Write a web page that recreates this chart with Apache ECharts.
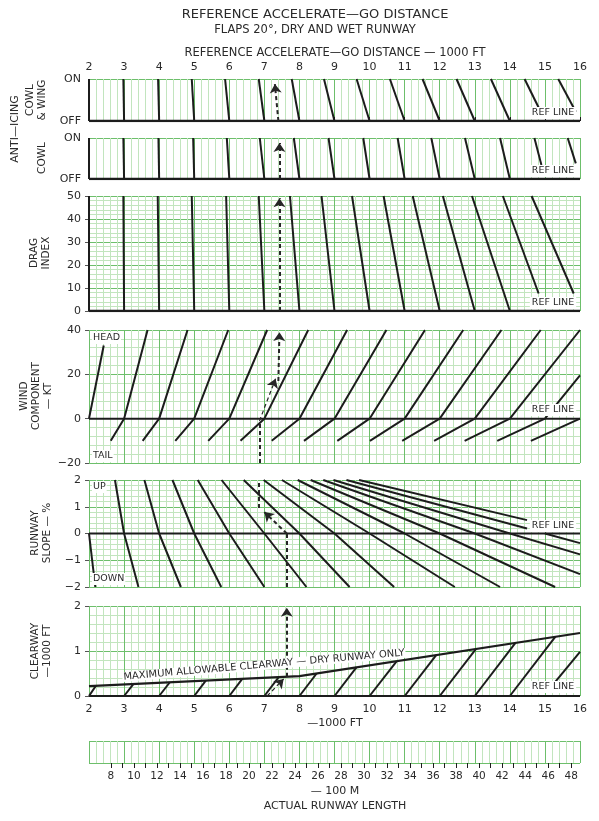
<!DOCTYPE html>
<html><head><meta charset="utf-8">
<script src="https://cdn.jsdelivr.net/npm/echarts@6/dist/echarts.min.js"></script>
<style>html,body{margin:0;padding:0;background:#fff}#c{width:599px;height:821px}</style>
</head><body><div id="c"></div>
<script>
// ---------- DATA ----------
const ftRange = [2, 16];                 // reference accelerate-go distance, 1000 ft
const ftPerMetric = 3.048;               // 1000 ft -> 100 m
const metricLabels = [8,10,12,14,16,18,20,22,24,26,28,30,32,34,36,38,40,42,44,46,48];
const metricTicks = [8,9,10,11,12,13,14,15,16,17,18,19,20,21,22,23,24,25,26,27,28,29,30,31,32,33,34,35,36,37,38,39,40,41,42,43,44,45,46,47,48];

const cowlWingLines = [
  [[2,0],[2,1]], [[3,0],[2.98,1]], [[4,0],[3.97,1]], [[5,0],[4.93,1]], [[6,0],[5.88,1]],
  [[7,0],[6.84,1]], [[8,0],[7.78,1]], [[9,0],[8.70,1]], [[10,0],[9.63,1]], [[11,0],[10.58,1]],
  [[12,0],[11.51,1]], [[13,0],[12.48,1]], [[14,0],[13.46,1]], [[14.82,0.32],[14.42,1]], [[15.88,0.22],[15.38,1]]
];
const cowlLines = [
  [[2,0],[2,1]], [[3,0],[2.98,1]], [[4,0],[3.98,1]], [[5,0],[4.97,1]], [[6,0],[5.93,1]],
  [[7,0],[6.87,1]], [[8,0],[7.84,1]], [[9,0],[8.83,1]], [[10,0],[9.82,1]], [[11,0],[10.80,1]],
  [[12,0],[11.76,1]], [[13,0],[12.72,1]], [[14,0],[13.72,1]], [[14.90,0.34],[14.70,1]], [[15.88,0.38],[15.65,1]]
];
const dragLines = [
  [[2,0],[2,50]], [[3,0],[2.98,50]], [[4,0],[3.96,50]], [[5,0],[4.93,50]], [[6,0],[5.91,50]],
  [[7,0],[6.84,50]], [[8,0],[7.73,50]], [[9,0],[8.63,50]], [[10,0],[9.50,50]], [[11,0],[10.40,50]],
  [[12,0],[11.23,50]], [[13,0],[12.09,50]], [[14,0],[12.92,50]], [[14.82,7.6],[13.80,50]], [[15.82,7.6],[14.62,50]]
];
const windLines = [
  [[2,0],[2.42,33]],
  [[2.62,-10],[3,0],[3.67,40]],
  [[3.53,-10],[4,0],[4.81,40]],
  [[4.46,-10],[5,0],[5.97,40]],
  [[5.40,-10],[6,0],[7.08,40]],
  [[6.32,-10],[7,0],[8.25,40]],
  [[7.21,-10],[8,0],[9.36,40]],
  [[8.13,-10],[9,0],[10.48,40]],
  [[9.08,-10],[10,0],[11.58,40]],
  [[10.01,-10],[11,0],[12.67,40]],
  [[10.93,-10],[12,0],[13.76,40]],
  [[11.84,-10],[13,0],[14.88,40]],
  [[12.71,-10],[14,0],[16,40]],
  [[13.64,-10],[15,0],[16,19.5]],
  [[14.60,-10],[16,0]]
];
const slopeLines = [
  [[2,0],[2.18,-2]],
  [[2.74,2],[3,0],[3.41,-2]],
  [[3.58,2],[4,0],[4.62,-2]],
  [[4.38,2],[5,0],[5.77,-2]],
  [[5.10,2],[6,0],[7.00,-2]],
  [[5.78,2],[7,0],[8.20,-2]],
  [[6.41,2],[8,0],[9.43,-2]],
  [[6.98,2],[9,0],[10.70,-2]],
  [[7.50,2],[10,0],[12.43,-2]],
  [[7.95,2],[11,0],[13.72,-2]],
  [[8.32,2],[12,0],[15.29,-2]],
  [[8.68,2],[13,0],[16,-1.52]],
  [[8.97,2],[14,0],[16,-0.78]],
  [[9.34,2],[14.49,0.19]], [[15,0],[16,-0.36]],
  [[9.70,2],[14.49,0.50]]
];
const maxClearway = [[2,0.22],[8,0.44],[16,1.40]];
const clearwayLines = [
  [[2,0],[2.20,0.23]], [[3,0],[3.27,0.27]], [[4,0],[4.30,0.30]], [[5,0],[5.33,0.34]],
  [[6,0],[6.37,0.38]], [[7,0],[7.41,0.42]], [[8,0],[8.49,0.50]], [[9,0],[9.63,0.64]],
  [[10,0],[10.77,0.77]], [[11,0],[11.90,0.91]], [[12,0],[13.03,1.04]], [[13,0],[14.16,1.18]],
  [[14,0],[15.30,1.32]], [[15.30,0.32],[16,0.98]]
];
// example path (dashed)
const pathCowlWing = [[7.40,0],[7.30,0.88]];
const pathCowl = [[7.43,0],[7.43,0.88]];
const pathDrag = [[7.43,0],[7.43,49]];
const pathWindLow = [[6.86,-20],[6.86,-1]];
const pathWindGuide = [[6.86,-1],[7.32,18]];
const pathWindHigh = [[7.40,17],[7.43,39]];
const pathSlopeLow = [[7.64,-2],[7.64,0]];
const pathSlopeGuide = [[7.64,0],[7.00,0.80]];
const pathSlopeHigh = [[6.84,0.95],[6.84,2]];
const pathClearGuide = [[7.08,0],[7.55,0.38]];
const pathClearHigh = [[7.64,0.43],[7.64,1.96]];

// ---------- STYLE / LAYOUT ----------
const FONT = '"DejaVu Sans", "Liberation Sans", sans-serif';
const MAJ = '#6dbf6b', MIN = '#c2e5be', INK = '#1c1c1c', TXT = '#2a2a2a';
const L = 89, R = 19;
const grids = [
  {top: 79, height: 42}, {top: 138, height: 41}, {top: 196, height: 115},
  {top: 330, height: 133}, {top: 480, height: 107}, {top: 606, height: 90}, {top: 741, height: 22}
].map(g => Object.assign({left: L, right: R}, g));

const yCfg = [
  {min:0, max:1, interval:1, minor:false, fmt: v => v ? 'ON' : 'OFF', tick:false},
  {min:0, max:1, interval:1, minor:false, fmt: v => v ? 'ON' : 'OFF', tick:false},
  {min:0, max:50, interval:10, minor:true, tick:true},
  {min:-20, max:40, interval:20, minor:true, tick:true},
  {min:-2, max:2, interval:1, minor:true, tick:true},
  {min:0, max:2, interval:1, minor:true, tick:true},
  {min:0, max:1, interval:1, minor:false, noLabel:true, tick:false}
];
const minusFmt = v => (v < 0 ? '\u2212' + (-v) : String(v));

const xAxes = grids.map((g, i) => ({
  type: 'value', gridIndex: i, min: ftRange[0], max: ftRange[1], interval: 1,
  position: i === 0 ? 'top' : 'bottom',
  axisLine: {show: false},
  axisTick: {show: i === 0, length: 4, lineStyle: {color: INK, width: 1}},
  axisLabel: {show: i === 0 || i === 5, margin: i === 0 ? 6 : 8, color: TXT, fontSize: 11, fontFamily: FONT},
  splitLine: {show: true, lineStyle: {color: MAJ, width: 1}},
  minorTick: {show: false, splitNumber: 5},
  minorSplitLine: {show: true, lineStyle: {color: MIN, width: 1}}
}));
xAxes.push({
  type: 'value', gridIndex: 6, position: 'bottom',
  min: ftRange[0] * ftPerMetric, max: ftRange[1] * ftPerMetric,
  axisLine: {show: false},
  axisTick: {show: true, customValues: metricTicks, length: 5, lineStyle: {color: INK, width: 1}},
  axisLabel: {show: true, customValues: metricLabels, margin: 8, color: TXT, fontSize: 10.5, fontFamily: FONT},
  splitLine: {show: false}
});

const yAxes = yCfg.map((c, i) => ({
  type: 'value', gridIndex: i, min: c.min, max: c.max, interval: c.interval,
  axisLine: {show: false},
  axisTick: {show: c.tick, length: 4, lineStyle: {color: '#555', width: 1}},
  axisLabel: {show: !c.noLabel, margin: 8, color: TXT, fontSize: 11, fontFamily: FONT, formatter: c.fmt || minusFmt},
  splitLine: {show: true, lineStyle: {color: MAJ, width: 1}},
  minorTick: {show: false, splitNumber: 5},
  minorSplitLine: {show: c.minor, lineStyle: {color: MIN, width: 1}}
}));

const series = [];
function addLines(segs, gi, width) {
  segs.forEach(seg => series.push({
    type: 'line', xAxisIndex: gi, yAxisIndex: gi, data: seg, symbol: 'none', showSymbol: false,
    lineStyle: {color: INK, width: width || 2}, silent: true, animation: false, z: 3
  }));
}
addLines(cowlWingLines, 0);
addLines(cowlLines, 1);
addLines(dragLines, 2);
addLines(windLines, 3);
addLines(slopeLines, 4);
addLines(clearwayLines, 5);
addLines([maxClearway], 5, 2.2);
// reference lines (y = 0) in panels 0..5
[0,1,2,3,4,5].forEach(gi => addLines([[[ftRange[0], 0], [ftRange[1], 0]]], gi, gi < 3 ? 2.6 : 2));

function addPath(pts, gi, arrow, thin) {
  series.push({
    type: 'lines', coordinateSystem: 'cartesian2d', xAxisIndex: gi, yAxisIndex: gi,
    data: [{coords: pts}], symbol: arrow ? ['none', 'arrow'] : ['none', 'none'], symbolSize: 9,
    lineStyle: {color: '#262626', width: thin ? 1.2 : 2, type: [4, 3], opacity: 1, curveness: 0},
    silent: true, animation: false, z: 4
  });
}
addPath(pathCowlWing, 0, true);
addPath(pathCowl, 1, true);
addPath(pathDrag, 2, true);
addPath(pathWindLow, 3, false);
addPath(pathWindGuide, 3, true, true);
addPath(pathWindHigh, 3, true);
addPath(pathSlopeLow, 4, false);
addPath(pathSlopeGuide, 4, true);
addPath(pathSlopeHigh, 4, false);
addPath(pathClearGuide, 5, true, true);
addPath(pathClearHigh, 5, true);

function txt(text, x, y, size, o) {
  o = o || {};
  const st = {text: text, fill: TXT, font: size + 'px ' + FONT, align: o.align || 'center', verticalAlign: 'middle'};
  if (o.lh) st.lineHeight = o.lh;
  if (o.bg) { st.backgroundColor = '#fff'; st.padding = o.pad || [1, 2]; }
  return {type: 'text', x: x, y: y, rotation: o.rot || 0, z: 100, silent: true, style: st};
}
const V = Math.PI / 2;
const graphics = [
  txt('REFERENCE ACCELERATE\u2014GO DISTANCE', 315, 15, 13),
  txt('FLAPS 20\u00B0, DRY AND WET RUNWAY', 315, 30, 11.5),
  txt('REFERENCE ACCELERATE\u2014GO DISTANCE \u2014 1000 FT', 335, 53, 11.5),
  txt('ANTI\u2014ICING', 15, 129, 11, {rot: V}),
  txt('COWL\n& WING', 36.5, 100, 10.5, {rot: V, lh: 12}),
  txt('COWL', 42.5, 158, 10.5, {rot: V}),
  txt('DRAG\nINDEX', 40, 253, 10.5, {rot: V, lh: 12}),
  txt('WIND\nCOMPONENT\n\u2014 KT', 36, 396, 10.5, {rot: V, lh: 12}),
  txt('RUNWAY\nSLOPE \u2014 %', 41.5, 533, 10.5, {rot: V, lh: 12}),
  txt('CLEARWAY\n\u20141000 FT', 41, 651, 10.5, {rot: V, lh: 12}),
  txt('\u20141000 FT', 335, 723, 11),
  txt('\u2014 100 M', 335, 791, 11),
  txt('ACTUAL RUNWAY LENGTH', 335, 806, 11),
  txt('REF LINE', 553, 113, 9.5, {bg: true}),
  txt('REF LINE', 553, 171, 9.5, {bg: true}),
  txt('REF LINE', 553, 303, 9.5, {bg: true}),
  txt('REF LINE', 553, 410, 9.5, {bg: true}),
  txt('REF LINE', 553, 526, 9.5, {bg: true}),
  txt('REF LINE', 553, 687, 9.5, {bg: true}),
  txt('HEAD', 92, 338, 9.5, {align: 'left', bg: true, pad: [1, 1]}),
  txt('TAIL', 92, 456, 9.5, {align: 'left', bg: true, pad: [1, 1]}),
  txt('UP', 92, 487, 9.5, {align: 'left', bg: true, pad: [1, 1]}),
  txt('DOWN', 92, 579, 9.5, {align: 'left', bg: true, pad: [1, 1]}),
  txt('MAXIMUM ALLOWABLE CLEARWAY \u2014 DRY RUNWAY ONLY', 264, 665, 10, {rot: 4.9 * Math.PI / 180, bg: true, pad: [0, 1]})
];

const chart = echarts.init(document.getElementById('c'), null, {renderer: 'canvas'});
chart.setOption({
  animation: false,
  backgroundColor: '#fff',
  textStyle: {fontFamily: FONT},
  grid: grids,
  xAxis: xAxes,
  yAxis: yAxes,
  series: series,
  graphic: graphics
});
</script></body></html>
